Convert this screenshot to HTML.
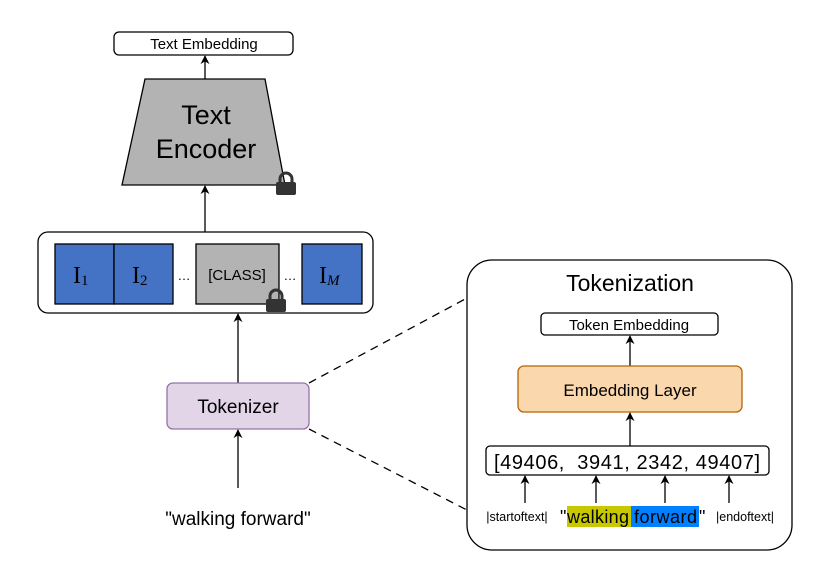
<!DOCTYPE html>
<html><head><meta charset="utf-8"><style>html,body{margin:0;padding:0;background:#fff}svg{display:block}text{font-family:"Liberation Sans",sans-serif}</style></head><body>
<svg width="830" height="577" viewBox="0 0 830 577" xmlns="http://www.w3.org/2000/svg">
<defs><marker id="a" viewBox="0 0 10 10" refX="9" refY="5" markerWidth="9" markerHeight="9" markerUnits="userSpaceOnUse" orient="auto"><path d="M0,0 L10,5 L0,10 L3,5 z" fill="#000"/></marker>
<g id="lock"><rect x="0" y="9" width="20" height="13" rx="2" fill="#333"/><path d="M4,10 V6 a6,6 0 0 1 12,0 V10" fill="none" stroke="#333" stroke-width="3"/></g></defs>
<g stroke-width="1.3">
<rect x="114" y="32" width="179" height="23" rx="5" fill="#fff" stroke="#000"/>
<line x1="205" y1="79" x2="205" y2="56" stroke="#000" marker-end="url(#a)"/>
<polygon points="145,79 265,79 285,185 122,185" fill="#b3b3b3" stroke="#000"/>
<line x1="205" y1="232" x2="205" y2="186" stroke="#000" marker-end="url(#a)"/>
<rect x="38" y="232" width="335" height="81" rx="10" fill="#fff" stroke="#000"/>
<rect x="55" y="244" width="59" height="60" fill="#4472c4" stroke="#000"/>
<rect x="114" y="244" width="59" height="60" fill="#4472c4" stroke="#000"/>
<rect x="196" y="244" width="83" height="60" fill="#b3b3b3" stroke="#000"/>
<rect x="302" y="244" width="60" height="60" fill="#4472c4" stroke="#000"/>
<line x1="238" y1="383" x2="238" y2="314" stroke="#000" marker-end="url(#a)"/>
<rect x="167" y="383" width="142" height="46" rx="6" fill="#e1d5e7" stroke="#9673a6"/>
<line x1="238" y1="488" x2="238" y2="430" stroke="#000" marker-end="url(#a)"/>
<line x1="309" y1="383" x2="467" y2="298" stroke="#000" stroke-dasharray="8,6"/>
<line x1="309" y1="429" x2="467" y2="510" stroke="#000" stroke-dasharray="8,6"/>
<rect x="467" y="260" width="325" height="290" rx="25" fill="#fff" stroke="#000"/>
<rect x="541" y="313" width="177" height="22" rx="4" fill="#fff" stroke="#000"/>
<line x1="630" y1="366" x2="630" y2="336" stroke="#000" marker-end="url(#a)"/>
<rect x="518" y="366" width="224" height="46" rx="6" fill="#fad7ac" stroke="#b46504"/>
<line x1="630" y1="446" x2="630" y2="413" stroke="#000" marker-end="url(#a)"/>
<rect x="486" y="446" width="283" height="29" rx="4" fill="#fff" stroke="#000"/>
<line x1="525" y1="503" x2="525" y2="476" stroke="#000" marker-end="url(#a)"/>
<line x1="596" y1="503" x2="596" y2="476" stroke="#000" marker-end="url(#a)"/>
<line x1="665" y1="503" x2="665" y2="476" stroke="#000" marker-end="url(#a)"/>
<line x1="729" y1="503" x2="729" y2="476" stroke="#000" marker-end="url(#a)"/>
</g>
<text x="204" y="49" font-size="15" text-anchor="middle">Text Embedding</text>
<text x="206" y="124" font-size="27" text-anchor="middle">Text</text>
<text x="206" y="158" font-size="27" text-anchor="middle">Encoder</text>
<use href="#lock" x="276" y="173"/>
<text x="73" y="283" font-size="24" style="font-family:'Liberation Serif',serif">I<tspan font-size="15" dy="2">1</tspan></text>
<text x="132" y="283" font-size="24" style="font-family:'Liberation Serif',serif">I<tspan font-size="15" dy="2">2</tspan></text>
<text x="319" y="283" font-size="24" style="font-family:'Liberation Serif',serif">I<tspan font-size="15" dy="2" font-style="italic">M</tspan></text>
<text x="184" y="280" font-size="13" text-anchor="middle">…</text>
<text x="290" y="280" font-size="13" text-anchor="middle">…</text>
<text x="237" y="280" font-size="15" text-anchor="middle">[CLASS]</text>
<use href="#lock" x="266" y="290"/>
<text x="238" y="413" font-size="19" text-anchor="middle">Tokenizer</text>
<text x="238" y="525" font-size="19" text-anchor="middle">"walking forward"</text>
<text x="630" y="291" font-size="23" text-anchor="middle">Tokenization</text>
<text x="629" y="330" font-size="15" text-anchor="middle">Token Embedding</text>
<text x="630" y="396" font-size="17" text-anchor="middle">Embedding Layer</text>
<text x="627" y="469" font-size="20" text-anchor="middle" textLength="266" xml:space="preserve">[49406,  3941, 2342, 49407]</text>
<text x="517" y="521" font-size="12.5" text-anchor="middle">|startoftext|</text>
<rect x="567" y="506" width="64" height="21" fill="#c8c800"/>
<rect x="631" y="506" width="68" height="21" fill="#007fff"/>
<text x="560" y="523" font-size="18">"</text>
<text x="567" y="523" font-size="18" textLength="62">walking</text>
<text x="634" y="523" font-size="18" textLength="63">forward</text>
<text x="699" y="523" font-size="18">"</text>
<text x="745" y="521" font-size="12.5" text-anchor="middle">|endoftext|</text>
</svg>
</body></html>
